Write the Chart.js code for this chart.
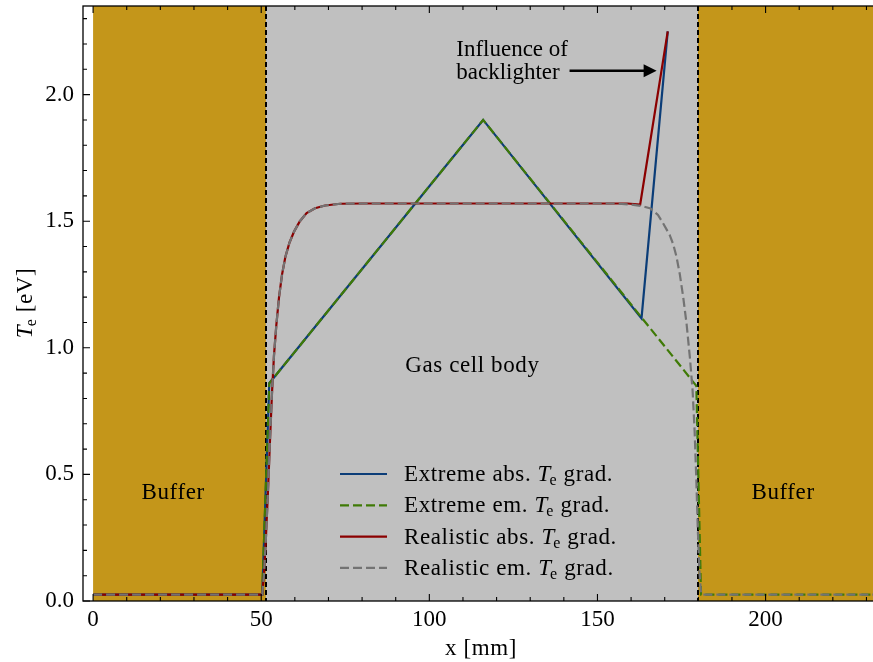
<!DOCTYPE html>
<html>
<head>
<meta charset="utf-8">
<script src="https://cdn.jsdelivr.net/npm/chart.js@4.4.0/dist/chart.umd.min.js"></script>
<style>
  html, body { margin: 0; padding: 0; background: #fff; overflow: hidden; }
</style>
</head>
<body>
<canvas id="grafico" width="890" height="662"></canvas>
<script>
// Perfis de temperatura eletrônica ao longo da célula (x em mm, Te em eV)
const extremoAbsX = [0, 50.3, 52.4, 116, 163.1, 170.9];
const extremoAbsY = [0.025, 0.025, 0.86, 1.9, 1.116, 2.25];

const extremoEmX = [0, 50.3, 52.4, 116, 179.4, 180.8, 237];
const extremoEmY = [0.025, 0.025, 0.86, 1.9, 0.85, 0.025, 0.025];

const realistaAbsX = [0, 50.3, 50.8, 51.4, 52.0, 52.6, 53.2, 53.8, 54.5, 55.3, 56.2, 57.2, 58.4, 59.8, 61.5, 63.5, 66, 69, 73.5, 80,
    159, 162.7, 170.9];
const realistaAbsY = [0.025, 0.025, 0.1, 0.25, 0.43, 0.63, 0.82, 0.97, 1.09, 1.2, 1.29, 1.36, 1.415, 1.46, 1.5, 1.532, 1.551, 1.562, 1.569, 1.57,
    1.57, 1.566, 2.25];

const realistaEmX = [0, 50.3, 50.8, 51.4, 52.0, 52.6, 53.2, 53.8, 54.5, 55.3, 56.2, 57.2, 58.4, 59.8, 61.5, 63.5, 66, 69, 73.5, 80,
    155, 160, 163.3, 165.8, 168, 169.6, 171.5, 172.5, 173.5, 174.5, 175.5, 176.5, 177.5, 178.3, 178.9, 179.4, 179.8, 180.3, 180.8,
    181.2, 237];
const realistaEmY = [0.025, 0.025, 0.1, 0.25, 0.43, 0.63, 0.82, 0.97, 1.09, 1.2, 1.29, 1.36, 1.415, 1.46, 1.5, 1.532, 1.551, 1.562, 1.569, 1.57,
    1.57, 1.566, 1.56, 1.55, 1.525, 1.49, 1.445, 1.41, 1.36, 1.29, 1.2, 1.095, 0.96, 0.83, 0.67, 0.48, 0.3, 0.12, 0.03,
    0.025, 0.025];

// Regiões (buffer / corpo da célula / buffer) e limites da célula
const regiaoInicio = [0, 51.4, 179.9];
const regiaoFim = [51.4, 179.9, 237];
const limitesCelula = [51.4, 179.9];

// Ticks dos eixos
const xTicks = [0, 50, 100, 150, 200];
const yTicks = [0.0, 0.5, 1.0, 1.5, 2.0];

// Legenda
const nomesSeries = ["Extreme abs.", "Extreme em.", "Realistic abs.", "Realistic em."];

const FONTE = '"Liberation Serif", "Times New Roman", serif';
const TAM = 23;
const ESPACO = "0.6px";
const corRegioes = ["#c4961a", "#c0c0c0", "#c4961a"];
const coresSeries = ["#0b3d78", "#3f7a06", "#8b0000", "#737373"];
const tracos = [[], [9, 4], [], [9, 4]];

const pontos = (xs, ys) => xs.map((v, i) => ({ x: v, y: ys[i] }));

// Escreve "antes T_e depois" e devolve a largura total
function escreverTe(ctx, antes, depois, x, y, medir) {
    let w = 0;
    const partes = [
        [`${TAM}px ${FONTE}`, antes, 0],
        [`italic ${TAM}px ${FONTE}`, "T", 0],
        [`${Math.round(TAM * 0.7)}px ${FONTE}`, "e", 4],
        [`${TAM}px ${FONTE}`, depois, 0]
    ];
    partes.forEach(([f, t, dy]) => {
        ctx.font = f;
        if (!medir) ctx.fillText(t, x + w, y + dy);
        w += ctx.measureText(t).width;
        if (t === "T") w -= 1.5;
    });
    return w;
}

const decoracao = {
    id: "decoracao",
    beforeDatasetsDraw(chart) {
        const { ctx, chartArea: a, scales: { x } } = chart;
        ctx.save();
        ctx.beginPath();
        ctx.rect(a.left, a.top, a.width, a.height);
        ctx.clip();
        regiaoInicio.forEach((ini, i) => {
            const x0 = x.getPixelForValue(ini);
            const x1 = x.getPixelForValue(regiaoFim[i]);
            ctx.fillStyle = corRegioes[i];
            ctx.fillRect(x0, a.top, x1 - x0, a.height);
        });
        // linhas tracejadas nos limites da célula (alinhadas ao pixel)
        ctx.strokeStyle = "#000";
        ctx.lineWidth = 2;
        ctx.setLineDash([5, 3]);
        limitesCelula.forEach(v => {
            const px = Math.round(x.getPixelForValue(v));
            ctx.beginPath();
            ctx.moveTo(px, a.top);
            ctx.lineTo(px, a.bottom);
            ctx.stroke();
        });
        ctx.restore();
    },
    afterDatasetsDraw(chart) {
        const { ctx, chartArea: a, scales: { x, y } } = chart;
        ctx.save();
        ctx.letterSpacing = ESPACO;
        ctx.fillStyle = "#000";
        ctx.font = `${TAM}px ${FONTE}`;
        ctx.textBaseline = "middle";
        ctx.textAlign = "center";
        ctx.fillText("Buffer", x.getPixelForValue(23.8), y.getPixelForValue(0.427));
        ctx.fillText("Buffer", x.getPixelForValue(205.2), y.getPixelForValue(0.427));
        ctx.fillText("Gas cell body", x.getPixelForValue(112.8), y.getPixelForValue(0.928));

        // anotação do backlighter
        ctx.letterSpacing = "0px";
        ctx.textAlign = "left";
        ctx.textBaseline = "alphabetic";
        ctx.fillText("Influence of", x.getPixelForValue(108), y.getPixelForValue(2.151));
        ctx.fillText("backlighter", x.getPixelForValue(108), y.getPixelForValue(2.062));
        const ax0 = x.getPixelForValue(141.7), ax1 = x.getPixelForValue(167.6), ay = y.getPixelForValue(2.094);
        ctx.strokeStyle = "#000";
        ctx.lineWidth = 2.5;
        ctx.beginPath();
        ctx.moveTo(ax0, ay);
        ctx.lineTo(ax1 - 10, ay);
        ctx.stroke();
        ctx.beginPath();
        ctx.moveTo(ax1, ay);
        ctx.lineTo(ax1 - 13, ay - 6.5);
        ctx.lineTo(ax1 - 13, ay + 6.5);
        ctx.closePath();
        ctx.fill();

        // legenda
        ctx.letterSpacing = ESPACO;
        nomesSeries.forEach((nome, i) => {
            const ly = 474 + i * 31.3;
            ctx.strokeStyle = coresSeries[i];
            ctx.lineWidth = 2.2;
            ctx.setLineDash(tracos[i]);
            ctx.beginPath();
            ctx.moveTo(340, ly);
            ctx.lineTo(387, ly);
            ctx.stroke();
            ctx.setLineDash([]);
            ctx.fillStyle = "#000";
            escreverTe(ctx, nome + " ", " grad.", 404, ly + 7);
        });

        // ticks para dentro nos quatro lados
        ctx.strokeStyle = "#000";
        ctx.lineWidth = 1.1;
        const tickX = (v, len) => {
            const px = x.getPixelForValue(v);
            ctx.beginPath();
            ctx.moveTo(px, a.bottom); ctx.lineTo(px, a.bottom - len);
            ctx.moveTo(px, a.top); ctx.lineTo(px, a.top + len);
            ctx.stroke();
        };
        const tickY = (v, len) => {
            const py = y.getPixelForValue(v);
            ctx.beginPath();
            ctx.moveTo(a.left, py); ctx.lineTo(a.left + len, py);
            ctx.moveTo(a.right, py); ctx.lineTo(a.right - len, py);
            ctx.stroke();
        };
        for (let v = 0; v <= x.max; v += 10) tickX(v, v % 50 === 0 ? 7 : 4);
        for (let k = 0; k <= 23; k++) tickY(k / 10, k % 5 === 0 ? 7 : 4);

        // moldura
        ctx.lineWidth = 1.3;
        ctx.strokeRect(a.left, a.top, a.width, a.height);

        // títulos dos eixos
        ctx.font = `${TAM}px ${FONTE}`;
        ctx.textAlign = "center";
        ctx.fillText("x [mm]", 481, 655);
        ctx.textAlign = "left";
        ctx.translate(32, 303);
        ctx.rotate(-Math.PI / 2);
        const w = escreverTe(ctx, "", " [eV]", 0, 0, true);
        escreverTe(ctx, "", " [eV]", -w / 2, 0);
        ctx.restore();
    }
};

const serie = (xs, ys, i, ordem) => ({
    label: nomesSeries[i],
    data: pontos(xs, ys),
    borderColor: coresSeries[i],
    borderWidth: 2.2,
    borderDash: tracos[i],
    pointRadius: 0,
    tension: 0,
    fill: false,
    order: ordem
});

new Chart(document.getElementById("grafico").getContext("2d"), {
    type: "line",
    data: {
        datasets: [
            serie(extremoAbsX, extremoAbsY, 0, 4),
            serie(extremoEmX, extremoEmY, 1, 3),
            serie(realistaAbsX, realistaAbsY, 2, 2),
            serie(realistaEmX, realistaEmY, 3, 1)
        ]
    },
    options: {
        responsive: false,
        animation: false,
        layout: { padding: { top: 6, right: 0, bottom: 0, left: 0 } },
        plugins: { legend: { display: false }, tooltip: { enabled: false } },
        scales: {
            x: {
                type: "linear",
                min: -3,
                max: 237,
                afterBuildTicks: s => { s.ticks = xTicks.map(v => ({ value: v })); },
                afterFit: s => { s.height = 61; s.paddingLeft = 0; s.paddingRight = 0; },
                ticks: {
                    color: "#000",
                    padding: 5,
                    maxRotation: 0,
                    autoSkip: false,
                    font: { family: FONTE, size: TAM },
                    callback: v => String(v)
                },
                grid: { display: false, drawTicks: false },
                border: { display: false }
            },
            y: {
                min: 0,
                max: 2.35,
                afterBuildTicks: s => { s.ticks = yTicks.map(v => ({ value: v })); },
                afterFit: s => { s.width = 83; s.paddingTop = 0; s.paddingBottom = 0; },
                ticks: {
                    color: "#000",
                    padding: 9,
                    font: { family: FONTE, size: TAM },
                    callback: v => v.toFixed(1)
                },
                grid: { display: false, drawTicks: false },
                border: { display: false }
            }
        }
    },
    plugins: [decoracao]
});
</script>
</body>
</html>
